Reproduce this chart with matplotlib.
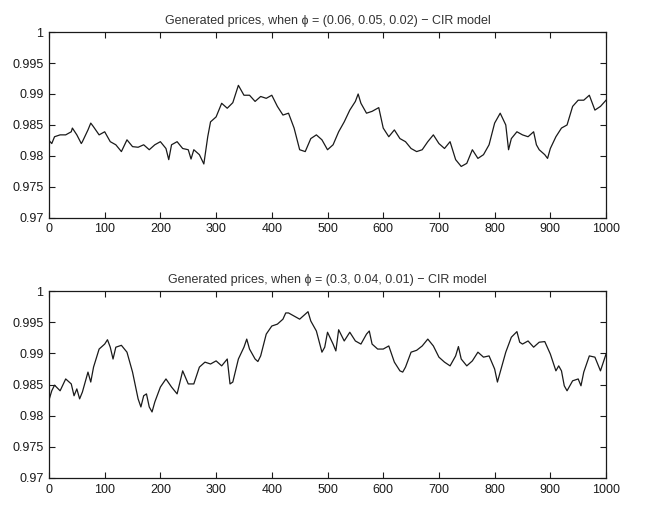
import matplotlib
matplotlib.use("Agg")
import matplotlib.pyplot as plt

top_title = "Generated prices, when \u03d5 = (0.06, 0.05, 0.02) \u2212 CIR model"
top_t = [0, 5, 10, 20, 30, 40, 42, 50, 58, 60, 70, 75, 80, 90, 100, 110, 120, 130, 140,
         150, 160, 170, 180, 190, 200, 210, 215, 220, 230, 240, 250, 255, 260, 270, 278,
         285, 290, 300, 310, 320, 330, 340, 350, 360, 370, 380, 390, 400, 410, 420, 430,
         440, 450, 460, 470, 480, 490, 500, 510, 520, 530, 540, 550, 555, 560, 570, 580,
         592, 600, 610, 620, 630, 640, 650, 660, 670, 680, 690, 700, 710, 720, 730, 740,
         750, 760, 770, 780, 790, 800, 810, 820, 825, 830, 840, 850, 860, 870, 875, 880,
         890, 895, 900, 910, 920, 930, 940, 950, 960, 970, 980, 990, 1000]
top_price = [0.9825, 0.9820, 0.9831, 0.9834, 0.9834, 0.9839, 0.9845, 0.9834, 0.9820, 0.9823,
             0.9842, 0.9853, 0.9847, 0.9834, 0.9839, 0.9823, 0.9818, 0.9807, 0.9826,
             0.9815, 0.9814, 0.9818, 0.9810, 0.9818, 0.9823, 0.9812, 0.9794, 0.9818,
             0.9823, 0.9812, 0.9810, 0.9795, 0.9810, 0.9802, 0.9787,
             0.9831, 0.9855, 0.9863, 0.9885, 0.9877, 0.9886, 0.9914, 0.9898, 0.9898,
             0.9888, 0.9896, 0.9893, 0.9898, 0.9880, 0.9866, 0.9869,
             0.9845, 0.9810, 0.9807, 0.9828, 0.9834, 0.9826, 0.9810, 0.9818, 0.9839,
             0.9855, 0.9874, 0.9888, 0.9900, 0.9885, 0.9869, 0.9872,
             0.9878, 0.9845, 0.9831, 0.9842, 0.9828, 0.9823, 0.9812, 0.9807, 0.9810,
             0.9823, 0.9834, 0.9820, 0.9812, 0.9823, 0.9794, 0.9783,
             0.9788, 0.9810, 0.9796, 0.9802, 0.9818, 0.9853, 0.9869, 0.9850, 0.9810,
             0.9828, 0.9839, 0.9834, 0.9831, 0.9839, 0.9818, 0.9810,
             0.9802, 0.9796, 0.9812, 0.9831, 0.9845, 0.9850, 0.9880, 0.9890, 0.9890,
             0.9898, 0.9874, 0.9880, 0.9890]

bottom_title = "Generated prices, when \u03d5 = (0.3, 0.04, 0.01) \u2212 CIR model"
bottom_t = [0, 5, 10, 20, 30, 40, 45, 50, 55, 60, 70, 75, 80, 90, 100, 105, 110, 115, 120,
            130, 140, 150, 160, 165, 170, 175, 180, 185, 190, 200, 210, 220, 230, 240,
            250, 260, 270, 280, 290, 300, 310, 320, 325, 330, 340, 350, 355, 360, 370,
            375, 380, 390, 400, 410, 420, 425, 430, 440, 450, 460, 465, 470, 480, 490,
            495, 500, 510, 515, 520, 530, 540, 550, 560, 570, 575, 580, 590, 600, 610,
            620, 630, 635, 640, 650, 660, 670, 680, 690, 700, 710, 720, 730, 735, 740,
            750, 760, 770, 780, 790, 800, 805, 810, 820, 830, 840, 845, 850, 860, 870,
            880, 890, 900, 910, 915, 920, 925, 930, 940, 950, 955, 960, 970, 980, 990,
            1000]
bottom_price = [0.9825, 0.9840, 0.9849, 0.9840, 0.9859, 0.9851, 0.9832, 0.9843, 0.9827,
                0.9838, 0.9870, 0.9854, 0.9878, 0.9907, 0.9915, 0.9922, 0.9910, 0.9891,
                0.9910, 0.9913, 0.9902, 0.9870, 0.9827, 0.9814, 0.9832, 0.9835, 0.9814,
                0.9806, 0.9822, 0.9846, 0.9859, 0.9846, 0.9835, 0.9872,
                0.9851, 0.9851, 0.9878, 0.9886, 0.9883, 0.9888, 0.9880, 0.9891, 0.9851,
                0.9854, 0.9891, 0.9910, 0.9923, 0.9907, 0.9891,
                0.9887, 0.9896, 0.9931, 0.9944, 0.9947, 0.9955, 0.9965, 0.9965, 0.9960,
                0.9955, 0.9963, 0.9967, 0.9952, 0.9936, 0.9902,
                0.9910, 0.9934, 0.9915, 0.9904, 0.9938, 0.9920, 0.9934, 0.9920, 0.9915,
                0.9931, 0.9936, 0.9915, 0.9907, 0.9907, 0.9912,
                0.9886, 0.9872, 0.9870, 0.9878, 0.9902, 0.9905, 0.9912, 0.9923, 0.9912,
                0.9894, 0.9886, 0.9880, 0.9896, 0.9911, 0.9891,
                0.9880, 0.9888, 0.9902, 0.9894, 0.9896, 0.9875, 0.9854, 0.9870, 0.9902,
                0.9926, 0.9935, 0.9918, 0.9915, 0.9920, 0.9910,
                0.9918, 0.9919, 0.9899, 0.9872, 0.9880, 0.9872, 0.9848, 0.9840, 0.9856,
                0.9859, 0.9848, 0.9870, 0.9896, 0.9894, 0.9872,
                0.9899]

x_ticks = [0, 100, 200, 300, 400, 500, 600, 700, 800, 900, 1000]
y_ticks = [0.97, 0.975, 0.98, 0.985, 0.99, 0.995, 1.0]
y_labels = ["0.97", "0.975", "0.98", "0.985", "0.99", "0.995", "1"]

plt.rcParams['font.family'] = ['Liberation Sans', 'DejaVu Sans']
ink = '#1a1a1a'

fig = plt.figure(figsize=(6.47, 5.09), dpi=100)
ax_top = fig.add_axes([0.0757, 0.572, 0.861, 0.365])
ax_bot = fig.add_axes([0.0757, 0.061, 0.861, 0.367])

for ax, t, price, title in [(ax_top, top_t, top_price, top_title),
                            (ax_bot, bottom_t, bottom_price, bottom_title)]:
    ax.plot(t, price, color=ink, linewidth=0.9)
    ax.set_xlim(0, 1000)
    ax.set_ylim(0.97, 1.0)
    ax.set_xticks(x_ticks)
    ax.set_yticks(y_ticks)
    ax.set_yticklabels(y_labels)
    ax.tick_params(direction='in', top=True, right=True, length=4, width=0.8,
                   color=ink, labelcolor=ink, labelsize=9, pad=4)
    for sp in ax.spines.values():
        sp.set_color(ink)
        sp.set_linewidth(0.9)
    ax.set_title(title, fontsize=9, color='#333333', pad=6)

fig.savefig("out.png", dpi=100, facecolor='white')
